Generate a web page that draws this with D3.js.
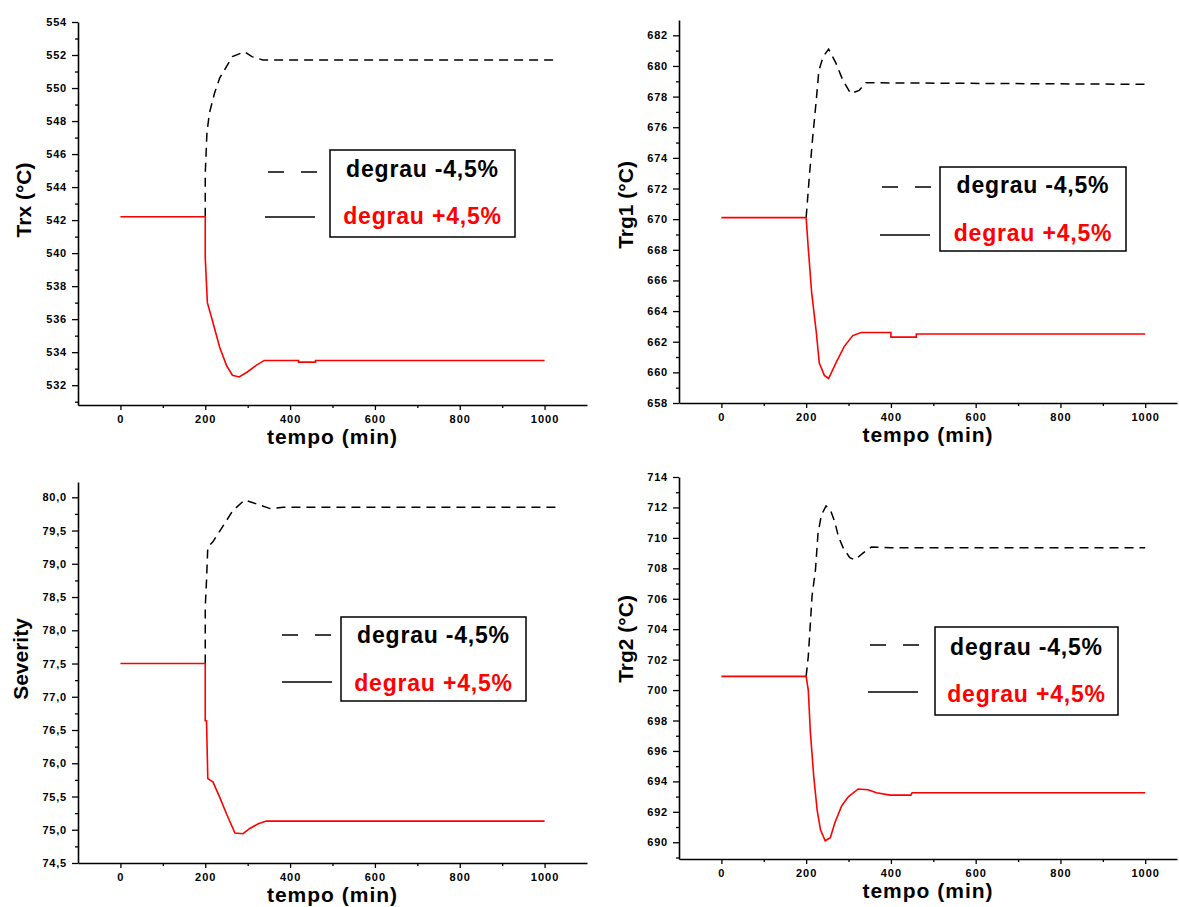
<!DOCTYPE html>
<html>
<head>
<meta charset="utf-8">
<script src="https://cdn.jsdelivr.net/npm/d3@7"></script>
<style>
body { margin: 0; background: #fff; }
svg text { font-family: "Liberation Sans", Arial, sans-serif; font-weight: bold; }
</style>
</head>
<body>
<script>
// legend labels
var labelMinus = "degrau -4,5%", labelPlus = "degrau +4,5%";

// x ticks (tempo, min)
var xMajor = [0, 200, 400, 600, 800, 1000];
var xMinor = [100, 300, 500, 700, 900];

// Trx
var trxMinusT = [200, 200, 204, 210, 222, 234, 250, 264, 293, 310, 336, 1030];
var trxMinusV = [542.2, 544.8, 547.3, 548.5, 549.7, 550.6, 551.3, 551.9, 552.2, 551.9, 551.7, 551.7];
var trxPlusT = [0, 200, 200, 205, 217, 234, 250, 264, 280, 299, 320, 339, 420, 420, 460, 460, 1000];
var trxPlusV = [542.2, 542.2, 539.7, 537.0, 535.9, 534.3, 533.2, 532.6, 532.5, 532.8, 533.2, 533.5, 533.5, 533.4, 533.4, 533.5, 533.5];

// Trg1
var trg1MinusT = [200, 207, 215, 224, 230, 240, 253, 270, 286, 305, 325, 341, 370, 1000];
var trg1MinusV = [670.1, 672.6, 675.2, 677.8, 679.7, 680.6, 681.1, 680.2, 679.1, 678.2, 678.4, 678.9, 678.9, 678.8];
var trg1PlusT = [0, 200, 205, 213, 224, 231, 243, 253, 270, 290, 310, 330, 370, 400, 400, 460, 460, 1000];
var trg1PlusV = [670.1, 670.1, 668.1, 665.2, 662.6, 660.6, 659.8, 659.6, 660.6, 661.7, 662.4, 662.6, 662.6, 662.6, 662.3, 662.3, 662.5, 662.5];

// Severity
var sevMinusT = [200, 200, 200, 203, 206, 218, 238, 250, 265, 293, 321, 353, 384, 1034];
var sevMinusV = [77.5, 77.9, 78.35, 78.75, 79.25, 79.33, 79.53, 79.65, 79.8, 79.96, 79.9, 79.83, 79.85, 79.85];
var sevPlusT = [0, 200, 200, 203, 206, 218, 234, 250, 270, 289, 305, 325, 344, 1000];
var sevPlusV = [77.5, 77.5, 76.64, 76.64, 75.77, 75.72, 75.49, 75.24, 74.95, 74.94, 75.02, 75.09, 75.13, 75.13];

// Trg2
var trg2MinusT = [200, 205, 210, 214, 222, 228, 236, 247, 257, 267, 276, 288, 303, 315, 334, 354, 400, 1000];
var trg2MinusV = [700.9, 702.2, 704.4, 706.2, 707.9, 710.3, 711.5, 712.1, 711.85, 711.1, 710.1, 709.3, 708.7, 708.55, 709.0, 709.4, 709.35, 709.35];
var trg2PlusT = [0, 200, 205, 210, 218, 226, 234, 245, 257, 268, 284, 300, 323, 346, 366, 398, 447, 450, 1000];
var trg2PlusV = [700.9, 700.9, 700.0, 697.2, 694.3, 692.1, 690.8, 690.1, 690.3, 691.3, 692.4, 693.0, 693.5, 693.45, 693.25, 693.1, 693.1, 693.25, 693.25];

// y ticks
var trxTicks = d3.range(532, 555, 2), trxMinor = d3.range(531, 554, 2);
var trg1Ticks = d3.range(658, 683, 2), trg1Minor = d3.range(659, 683, 2);
var sevTicks = d3.range(74.5, 80.01, 0.5), sevMinor = d3.range(74.75, 80, 0.5);
var trg2Ticks = d3.range(690, 715, 2), trg2Minor = d3.range(689, 714, 2);

var width = 1179, height = 907;
var svg = d3.select('body').append('svg').attr('width', width).attr('height', height);

var intFmt = d3.format('d');
var commaFmt = function(v) { return d3.format('.1f')(v).replace('.', ','); };

var panels = [
  { title: 'Trx (°C)', minusT: trxMinusT, minusV: trxMinusV, plusT: trxPlusT, plusV: trxPlusV,
    yDom: [530.8, 554], yTicks: trxTicks, yMinor: trxMinor, fmt: intFmt,
    left: 78, right: 587, top: 22, bottom: 405, xMax: 1100, titleX: 23, titleY: 200,
    leg: { bx: 330, by: 150, bw: 185, bh: 87, t1: 177, t2: 224, dy: 172, dx: 268, sy: 217, sx: 265 } },
  { title: 'Trg1 (°C)', minusT: trg1MinusT, minusV: trg1MinusV, plusT: trg1PlusT, plusV: trg1PlusV,
    yDom: [658, 683], yTicks: trg1Ticks, yMinor: trg1Minor, fmt: intFmt,
    left: 679, right: 1177, top: 20, bottom: 403, xMax: 1075, titleX: 625, titleY: 205,
    leg: { bx: 940, by: 167, bw: 186, bh: 84, t1: 193, t2: 241, dy: 187, dx: 882, sy: 235, sx: 880 } },
  { title: 'Severity', minusT: sevMinusT, minusV: sevMinusV, plusT: sevPlusT, plusV: sevPlusV,
    yDom: [74.5, 80.23], yTicks: sevTicks, yMinor: sevMinor, fmt: commaFmt,
    left: 78, right: 587, top: 482, bottom: 863, xMax: 1100, titleX: 20, titleY: 659,
    leg: { bx: 341, by: 617, bw: 185, bh: 84, t1: 643, t2: 691, dy: 635, dx: 282, sy: 682, sx: 282 } },
  { title: 'Trg2 (°C)', minusT: trg2MinusT, minusV: trg2MinusV, plusT: trg2PlusT, plusV: trg2PlusV,
    yDom: [688.9, 714], yTicks: trg2Ticks, yMinor: trg2Minor, fmt: intFmt,
    left: 679, right: 1177, top: 477, bottom: 859, xMax: 1075, titleX: 625, titleY: 639,
    leg: { bx: 935, by: 627, bw: 183, bh: 88, t1: 655, t2: 702, dy: 645, dx: 870, sy: 692, sx: 868 } }
];

panels.forEach(function(p) {
  var g = svg.append('g');
  var x = d3.scaleLinear().domain([-100, p.xMax]).range([p.left, p.right]);
  var y = d3.scaleLinear().domain(p.yDom).range([p.bottom, p.top]);

  // x axis
  var xa = g.append('g').attr('transform', 'translate(0,' + p.bottom + ')')
    .call(d3.axisBottom(x).tickValues(xMajor).tickSize(5).tickSizeOuter(0).tickPadding(5).tickFormat(intFmt));
  g.append('g').attr('transform', 'translate(0,' + p.bottom + ')')
    .call(d3.axisBottom(x).tickValues(xMinor).tickSize(3).tickFormat(''))
    .select('.domain').remove();
  xa.selectAll('text').attr('font-size', 11).attr('letter-spacing', 1).attr('fill', '#000');

  // y axis
  var ya = g.append('g').attr('transform', 'translate(' + p.left + ',0)')
    .call(d3.axisLeft(y).tickValues(p.yTicks).tickSize(6).tickSizeOuter(0).tickPadding(5).tickFormat(p.fmt));
  g.append('g').attr('transform', 'translate(' + p.left + ',0)')
    .call(d3.axisLeft(y).tickValues(p.yMinor).tickSize(3).tickFormat(''))
    .select('.domain').remove();
  ya.selectAll('text').attr('font-size', 11).attr('letter-spacing', 0.8).attr('fill', '#000');

  g.selectAll('.domain').attr('stroke-width', 1.6);
  g.selectAll('.tick line').attr('stroke-width', 1.3);

  // titles
  g.append('text')
    .attr('x', (p.left + p.right) / 2).attr('y', p.bottom + 39)
    .attr('text-anchor', 'middle').attr('font-size', 21).attr('letter-spacing', 1)
    .text('tempo (min)');
  g.append('text')
    .attr('transform', 'translate(' + p.titleX + ',' + p.titleY + ') rotate(-90)')
    .attr('text-anchor', 'middle').attr('dy', '0.36em').attr('font-size', 21)
    .text(p.title);

  var line = d3.line().x(function(d) { return x(d[0]); }).y(function(d) { return y(d[1]); });

  // degrau -4,5%
  g.append('path').datum(d3.zip(p.minusT, p.minusV))
    .attr('d', line).attr('fill', 'none').attr('stroke', '#000')
    .attr('stroke-width', 1.5).attr('stroke-dasharray', '9,6');
  // degrau +4,5%
  g.append('path').datum(d3.zip(p.plusT, p.plusV))
    .attr('d', line).attr('fill', 'none').attr('stroke', '#ff0000')
    .attr('stroke-width', 1.6);

  // legend
  var L = p.leg;
  g.append('rect').attr('x', L.bx).attr('y', L.by).attr('width', L.bw).attr('height', L.bh)
    .attr('fill', '#fff').attr('stroke', '#000').attr('stroke-width', 1.5);
  g.append('line').attr('x1', L.dx).attr('x2', L.dx + 50).attr('y1', L.dy).attr('y2', L.dy)
    .attr('stroke', '#000').attr('stroke-width', 1.5).attr('stroke-dasharray', '16,17');
  g.append('line').attr('x1', L.sx).attr('x2', L.sx + 50).attr('y1', L.sy).attr('y2', L.sy)
    .attr('stroke', '#000').attr('stroke-width', 1.5);
  g.append('text').attr('x', L.bx + L.bw / 2).attr('y', L.t1)
    .attr('text-anchor', 'middle').attr('font-size', 23).attr('letter-spacing', 0.8)
    .attr('fill', '#000').text(labelMinus);
  g.append('text').attr('x', L.bx + L.bw / 2).attr('y', L.t2)
    .attr('text-anchor', 'middle').attr('font-size', 23).attr('letter-spacing', 0.8)
    .attr('fill', '#ff0000').text(labelPlus);
});
</script>
</body>
</html>
